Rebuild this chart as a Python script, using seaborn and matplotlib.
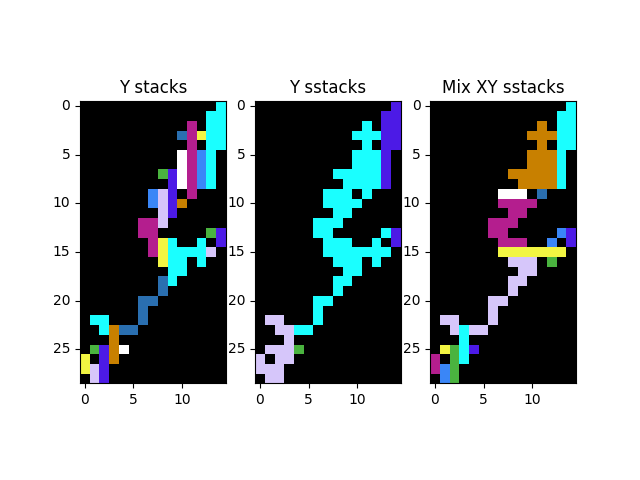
import numpy as np
import matplotlib
matplotlib.use("Agg")
import matplotlib.pyplot as plt
import seaborn as sns
from matplotlib.colors import ListedColormap

# --- Colours (one letter per cell) ---
color_keys = [".", "c", "m", "y", "w", "s", "b", "g", "p", "l", "o"]
color_hex = ["#000000", "#1affff", "#b41e8e", "#f2f542", "#ffffff", "#2a6fb0",
             "#3a86f7", "#4ab33f", "#4c1ae6", "#d6c6fa", "#c88000"]

titles = ["Y stacks", "Y sstacks", "Mix XY sstacks"]

y_stacks = [
    "..............c",
    ".............cc",
    "...........m.cc",
    "..........smycc",
    "...........m.cc",
    "..........wmbc.",
    "..........wmbc.",
    "........gpwmbc.",
    ".........pwmbc.",
    ".......blp.m...",
    ".......blpo....",
    "........lp.....",
    "......mml......",
    "......mm.....gp",
    ".......myc..c.p",
    ".......myccccl.",
    "........ycc.c..",
    ".........cc....",
    "........sc.....",
    "........s......",
    "......ss.......",
    "......s........",
    ".cc...s........",
    "..coss.........",
    "...o...........",
    ".gpow..........",
    "y.po...........",
    "ylp............",
    ".lp............",
]

y_sstacks = [
    "..............p",
    ".............pp",
    "...........c.pp",
    "..........cccpp",
    "...........c.pp",
    "..........cccp.",
    "..........cccp.",
    "........cccccp.",
    ".........ccccp.",
    ".......ccc.c...",
    ".......cccc....",
    "........cc.....",
    "......ccc......",
    "......cc.....cp",
    ".......ccc..c.p",
    ".......ccccccc.",
    "........ccc.c..",
    ".........cc....",
    "........cc.....",
    "........c......",
    "......cc.......",
    "......c........",
    ".ll...c........",
    "..llcc.........",
    "...l...........",
    ".lllg..........",
    "l.ll...........",
    "lll............",
    ".ll............",
]

mix_xy_sstacks = [
    "..............c",
    ".............cc",
    "...........o.cc",
    "..........ooocc",
    "...........o.cc",
    "..........oooc.",
    "..........oooc.",
    "........oooooc.",
    ".........ooooc.",
    ".......www.s...",
    ".......mmmm....",
    "........mm.....",
    "......mmm......",
    "......mm.....bp",
    ".......mmm..b.p",
    ".......yyyyyyy.",
    "........lll.g..",
    ".........ll....",
    "........ll.....",
    "........l......",
    "......ll.......",
    "......l........",
    ".ll...l........",
    "..lcll.........",
    "...c...........",
    ".ygcp..........",
    "m.gc...........",
    "mbg............",
    ".bg............",
]

x_ticks = [0, 5, 10]
y_ticks = [0, 5, 10, 15, 20, 25]

cmap = ListedColormap(color_hex)
code = {k: i for i, k in enumerate(color_keys)}


def to_grid(rows):
    return np.array([[code[ch] for ch in r] for r in rows])


fig, axes = plt.subplots(1, 3, figsize=(6.4, 4.8), dpi=100)

for ax, grid, title in zip(axes, [y_stacks, y_sstacks, mix_xy_sstacks], titles):
    sns.heatmap(to_grid(grid), cmap=cmap, vmin=-0.5, vmax=len(color_hex) - 0.5,
                cbar=False, square=True, linewidths=0, ax=ax)
    for sp in ax.spines.values():
        sp.set_visible(True)
        sp.set_color("black")
        sp.set_linewidth(0.8)
    ax.set_xticks([t + 0.5 for t in x_ticks])
    ax.set_xticklabels([str(t) for t in x_ticks], rotation=0)
    ax.set_yticks([t + 0.5 for t in y_ticks])
    ax.set_yticklabels([str(t) for t in y_ticks], rotation=0)
    ax.tick_params(length=3.5, width=0.8, labelsize=10)
    ax.set_title(title, fontsize=12)

plt.savefig("out.png", dpi=100)
